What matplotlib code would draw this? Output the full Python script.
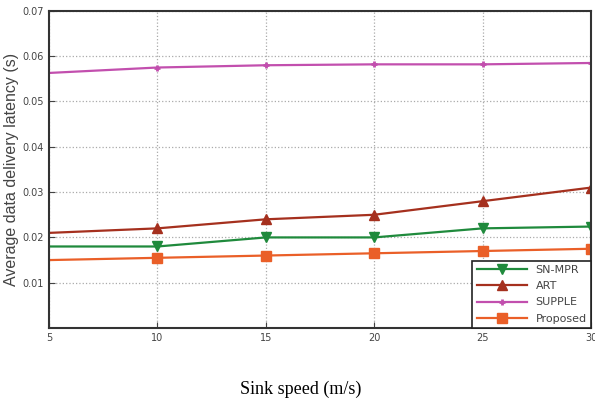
import matplotlib.pyplot as plt

speeds = [5, 10, 15, 20, 25, 30]
sn_mpr = [0.018, 0.018, 0.020, 0.020, 0.022, 0.0224]
art = [0.021, 0.022, 0.024, 0.025, 0.028, 0.031]
supple = [0.0563, 0.0575, 0.058, 0.0582, 0.0582, 0.0585]
proposed = [0.015, 0.0155, 0.016, 0.0165, 0.017, 0.0175]

y_ticks = [0.01, 0.02, 0.03, 0.04, 0.05, 0.06, 0.07]

fig = plt.figure(figsize=(5.95, 4.03), dpi=100)
ax = fig.add_axes([0.0824, 0.186, 0.911, 0.787])

every = slice(1, None)
ax.plot(speeds, sn_mpr, color="#1f8a3c", marker="v", ms=7, lw=1.6, markevery=every, label="SN-MPR")
ax.plot(speeds, art, color="#a5301e", marker="^", ms=7, lw=1.6, markevery=every, label="ART")
ax.plot(speeds, supple, color="#c24fae", marker="+", ms=5, mew=2, lw=1.6, markevery=every, label="SUPPLE")
ax.plot(speeds, proposed, color="#ea5f28", marker="s", ms=6.5, lw=1.6, markevery=every, label="Proposed")

ax.set_xlim(5, 30)
ax.set_ylim(0, 0.07)
ax.set_xticks(speeds)
ax.set_yticks(y_ticks)
ax.set_yticklabels([f"{v:.2f}" for v in y_ticks])
ax.grid(True, linestyle=":", color="#aaaaaa", lw=0.9)
ax.tick_params(direction="in", labelsize=7, colors="#444444", length=4)
for s in ax.spines.values():
    s.set_color("#333333")
    s.set_linewidth(1.5)

ax.set_ylabel("Average data delivery latency (s)", fontsize=11.5, color="#444444",
              family="Liberation Sans", labelpad=3)
fig.text(0.505, 0.033, "Sink speed (m/s)", ha="center", va="center",
         fontsize=13, family="Liberation Serif")

leg = ax.legend(loc="lower right", fontsize=8, fancybox=False, framealpha=1,
                borderaxespad=0, handlelength=4.5, labelspacing=0.55)
leg.get_frame().set_edgecolor("#222222")
leg.get_frame().set_linewidth(1.2)
for t in leg.get_texts():
    t.set_color("#444444")

fig.savefig("out.png", dpi=100)
